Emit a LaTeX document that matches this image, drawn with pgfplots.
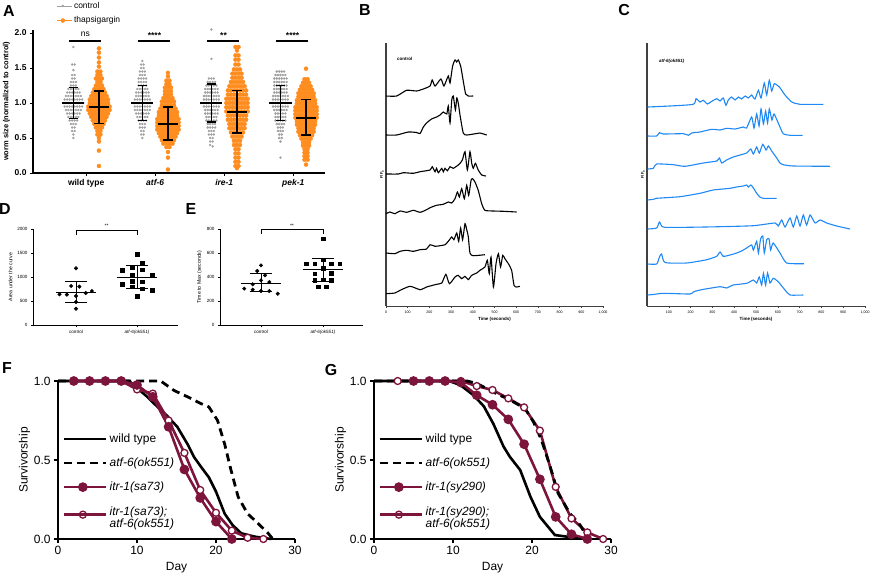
\documentclass[border=0pt]{standalone}
\usepackage{fontspec}
\setmainfont{Liberation Sans}
\usepackage{pgfplots}
\usepackage{pgfplotstable}
\pgfplotsset{compat=1.18}
\pgfplotsset{dotlegend/.style={legend image code/.code={\draw[##1] plot[only marks] coordinates {(6bp,0bp)}; \path (0bp,0bp) -- (15bp,0bp);}}}
\definecolor{ctrlgray}{RGB}{160,160,160}
\definecolor{thorange}{RGB}{255,140,30}
\definecolor{tblue}{RGB}{30,136,245}
\definecolor{maroon}{RGB}{125,20,60}
\newcommand{\msd}[9]{%
\addplot[black,line width=#9,forget plot] coordinates {(#2,#6) (#3,#6)};
\addplot[black,line width=#9,forget plot] coordinates {(#1,#7) (#1,#8)};
\addplot[black,line width=#9,forget plot] coordinates {(#4,#7) (#5,#7)};
\addplot[black,line width=#9,forget plot] coordinates {(#4,#8) (#5,#8)};}

% ---------- Panel A: control (gray) ----------
\pgfplotstableread[row sep=\\]{
g s y\\
1 0 1.80\\ 1 -1 1.55\\ 1 1 1.55\\ 1 0 1.47\\ 1 -1 1.40\\ 1 1 1.40\\ 1 -1 1.35\\ 1 1 1.35\\
1 -2 1.30\\ 1 0 1.30\\ 1 2 1.30\\ 1 -2 1.25\\ 1 0 1.25\\ 1 2 1.25\\
1 -4 1.20\\ 1 -2 1.20\\ 1 0 1.20\\ 1 2 1.20\\ 1 4 1.20\\
1 -5 1.15\\ 1 -3 1.15\\ 1 -1 1.15\\ 1 1 1.15\\ 1 3 1.15\\ 1 5 1.15\\
1 -6 1.10\\ 1 -4 1.10\\ 1 -2 1.10\\ 1 0 1.10\\ 1 2 1.10\\ 1 4 1.10\\ 1 6 1.10\\
1 -7 1.05\\ 1 -5 1.05\\ 1 -3 1.05\\ 1 -1 1.05\\ 1 1 1.05\\ 1 3 1.05\\ 1 5 1.05\\ 1 7 1.05\\
1 -8 1.00\\ 1 -6 1.00\\ 1 -4 1.00\\ 1 -2 1.00\\ 1 0 1.00\\ 1 2 1.00\\ 1 4 1.00\\ 1 6 1.00\\ 1 8 1.00\\
1 -7 0.95\\ 1 -5 0.95\\ 1 -3 0.95\\ 1 -1 0.95\\ 1 1 0.95\\ 1 3 0.95\\ 1 5 0.95\\ 1 7 0.95\\
1 -6 0.90\\ 1 -4 0.90\\ 1 -2 0.90\\ 1 0 0.90\\ 1 2 0.90\\ 1 4 0.90\\ 1 6 0.90\\
1 -5 0.85\\ 1 -3 0.85\\ 1 -1 0.85\\ 1 1 0.85\\ 1 3 0.85\\ 1 5 0.85\\
1 -4 0.80\\ 1 -2 0.80\\ 1 0 0.80\\ 1 2 0.80\\ 1 4 0.80\\
1 -3 0.75\\ 1 -1 0.75\\ 1 1 0.75\\ 1 3 0.75\\
1 -2 0.70\\ 1 0 0.70\\ 1 2 0.70\\
1 -1 0.65\\ 1 1 0.65\\ 1 -1 0.60\\ 1 1 0.60\\ 1 0 0.55\\ 1 0 0.50\\
2 0 1.60\\ 2 -1 1.55\\ 2 1 1.55\\ 2 -1 1.50\\ 2 1 1.50\\
2 -2 1.45\\ 2 0 1.45\\ 2 2 1.45\\ 2 -2 1.40\\ 2 0 1.40\\ 2 2 1.40\\
2 -3 1.35\\ 2 -1 1.35\\ 2 1 1.35\\ 2 3 1.35\\
2 -3 1.30\\ 2 -1 1.30\\ 2 1 1.30\\ 2 3 1.30\\
2 -3 1.25\\ 2 -1 1.25\\ 2 1 1.25\\ 2 3 1.25\\
2 -4 1.20\\ 2 -2 1.20\\ 2 0 1.20\\ 2 2 1.20\\ 2 4 1.20\\
2 -5 1.15\\ 2 -3 1.15\\ 2 -1 1.15\\ 2 1 1.15\\ 2 3 1.15\\ 2 5 1.15\\
2 -5 1.10\\ 2 -3 1.10\\ 2 -1 1.10\\ 2 1 1.10\\ 2 3 1.10\\ 2 5 1.10\\
2 -6 1.05\\ 2 -4 1.05\\ 2 -2 1.05\\ 2 0 1.05\\ 2 2 1.05\\ 2 4 1.05\\ 2 6 1.05\\
2 -7 1.00\\ 2 -5 1.00\\ 2 -3 1.00\\ 2 -1 1.00\\ 2 1 1.00\\ 2 3 1.00\\ 2 5 1.00\\ 2 7 1.00\\
2 -6 0.95\\ 2 -4 0.95\\ 2 -2 0.95\\ 2 0 0.95\\ 2 2 0.95\\ 2 4 0.95\\ 2 6 0.95\\
2 -6 0.90\\ 2 -4 0.90\\ 2 -2 0.90\\ 2 0 0.90\\ 2 2 0.90\\ 2 4 0.90\\ 2 6 0.90\\
2 -5 0.85\\ 2 -3 0.85\\ 2 -1 0.85\\ 2 1 0.85\\ 2 3 0.85\\ 2 5 0.85\\
2 -4 0.80\\ 2 -2 0.80\\ 2 0 0.80\\ 2 2 0.80\\ 2 4 0.80\\
2 -3 0.75\\ 2 -1 0.75\\ 2 1 0.75\\ 2 3 0.75\\
2 -2 0.70\\ 2 0 0.70\\ 2 2 0.70\\ 2 -2 0.65\\ 2 0 0.65\\ 2 2 0.65\\
2 -1 0.60\\ 2 1 0.60\\ 2 -1 0.55\\ 2 1 0.55\\ 2 0 0.50\\
3 0 2.05\\ 3 0 1.63\\
3 -2 1.35\\ 3 0 1.35\\ 3 2 1.35\\
3 -3 1.30\\ 3 -1 1.30\\ 3 1 1.30\\ 3 3 1.30\\
3 -4 1.25\\ 3 -2 1.25\\ 3 0 1.25\\ 3 2 1.25\\ 3 4 1.25\\
3 -5 1.20\\ 3 -3 1.20\\ 3 -1 1.20\\ 3 1 1.20\\ 3 3 1.20\\ 3 5 1.20\\
3 -5 1.15\\ 3 -3 1.15\\ 3 -1 1.15\\ 3 1 1.15\\ 3 3 1.15\\ 3 5 1.15\\
3 -6 1.10\\ 3 -4 1.10\\ 3 -2 1.10\\ 3 0 1.10\\ 3 2 1.10\\ 3 4 1.10\\ 3 6 1.10\\
3 -6 1.05\\ 3 -4 1.05\\ 3 -2 1.05\\ 3 0 1.05\\ 3 2 1.05\\ 3 4 1.05\\ 3 6 1.05\\
3 -6 1.00\\ 3 -4 1.00\\ 3 -2 1.00\\ 3 0 1.00\\ 3 2 1.00\\ 3 4 1.00\\ 3 6 1.00\\
3 -6 0.95\\ 3 -4 0.95\\ 3 -2 0.95\\ 3 0 0.95\\ 3 2 0.95\\ 3 4 0.95\\ 3 6 0.95\\
3 -5 0.90\\ 3 -3 0.90\\ 3 -1 0.90\\ 3 1 0.90\\ 3 3 0.90\\ 3 5 0.90\\
3 -5 0.85\\ 3 -3 0.85\\ 3 -1 0.85\\ 3 1 0.85\\ 3 3 0.85\\ 3 5 0.85\\
3 -4 0.80\\ 3 -2 0.80\\ 3 0 0.80\\ 3 2 0.80\\ 3 4 0.80\\
3 -4 0.75\\ 3 -2 0.75\\ 3 0 0.75\\ 3 2 0.75\\ 3 4 0.75\\
3 -3 0.70\\ 3 -1 0.70\\ 3 1 0.70\\ 3 3 0.70\\
3 -3 0.65\\ 3 -1 0.65\\ 3 1 0.65\\ 3 3 0.65\\
3 -2 0.60\\ 3 0 0.60\\ 3 2 0.60\\ 3 -2 0.55\\ 3 0 0.55\\ 3 2 0.55\\
3 -1 0.50\\ 3 1 0.50\\ 3 -1 0.45\\ 3 1 0.45\\ 3 -1 0.40\\ 3 1 0.38\\
4 -3 1.45\\ 4 -1 1.45\\ 4 1 1.45\\ 4 3 1.45\\
4 -4 1.40\\ 4 -2 1.40\\ 4 0 1.40\\ 4 2 1.40\\ 4 4 1.40\\
4 -5 1.35\\ 4 -3 1.35\\ 4 -1 1.35\\ 4 1 1.35\\ 4 3 1.35\\ 4 5 1.35\\
4 -5 1.30\\ 4 -3 1.30\\ 4 -1 1.30\\ 4 1 1.30\\ 4 3 1.30\\ 4 5 1.30\\
4 -5 1.25\\ 4 -3 1.25\\ 4 -1 1.25\\ 4 1 1.25\\ 4 3 1.25\\ 4 5 1.25\\
4 -5 1.20\\ 4 -3 1.20\\ 4 -1 1.20\\ 4 1 1.20\\ 4 3 1.20\\ 4 5 1.20\\
4 -5 1.15\\ 4 -3 1.15\\ 4 -1 1.15\\ 4 1 1.15\\ 4 3 1.15\\ 4 5 1.15\\
4 -6 1.10\\ 4 -4 1.10\\ 4 -2 1.10\\ 4 0 1.10\\ 4 2 1.10\\ 4 4 1.10\\ 4 6 1.10\\
4 -6 1.05\\ 4 -4 1.05\\ 4 -2 1.05\\ 4 0 1.05\\ 4 2 1.05\\ 4 4 1.05\\ 4 6 1.05\\
4 -6 1.00\\ 4 -4 1.00\\ 4 -2 1.00\\ 4 0 1.00\\ 4 2 1.00\\ 4 4 1.00\\ 4 6 1.00\\
4 -6 0.95\\ 4 -4 0.95\\ 4 -2 0.95\\ 4 0 0.95\\ 4 2 0.95\\ 4 4 0.95\\ 4 6 0.95\\
4 -5 0.90\\ 4 -3 0.90\\ 4 -1 0.90\\ 4 1 0.90\\ 4 3 0.90\\ 4 5 0.90\\
4 -4 0.85\\ 4 -2 0.85\\ 4 0 0.85\\ 4 2 0.85\\ 4 4 0.85\\
4 -4 0.80\\ 4 -2 0.80\\ 4 0 0.80\\ 4 2 0.80\\ 4 4 0.80\\
4 -4 0.75\\ 4 -2 0.75\\ 4 0 0.75\\ 4 2 0.75\\ 4 4 0.75\\
4 -3 0.70\\ 4 -1 0.70\\ 4 1 0.70\\ 4 3 0.70\\
4 -2 0.65\\ 4 0 0.65\\ 4 2 0.65\\ 4 -2 0.60\\ 4 0 0.60\\ 4 2 0.60\\
4 -1 0.55\\ 4 1 0.55\\ 4 -1 0.50\\ 4 1 0.50\\ 4 0 0.45\\ 4 0 0.22\\
}\ctrltab

% ---------- Panel A: thapsigargin (orange) ----------
\pgfplotstableread[row sep=\\]{
g s y\\
1 0 1.78\\ 1 0 1.72\\ 1 0 1.65\\ 1 0 1.58\\ 1 0 1.52\\ 1 -1 1.45\\ 1 1 1.45\\ 1 -1 1.40\\ 1 1 1.40\\
1 -2 1.35\\ 1 0 1.35\\ 1 2 1.35\\ 1 -1 1.30\\ 1 1 1.30\\ 1 -2 1.25\\ 1 0 1.25\\ 1 2 1.25\\
1 -3 1.20\\ 1 -1 1.20\\ 1 1 1.20\\ 1 3 1.20\\
1 -4 1.15\\ 1 -2 1.15\\ 1 0 1.15\\ 1 2 1.15\\ 1 4 1.15\\
1 -5 1.10\\ 1 -3 1.10\\ 1 -1 1.10\\ 1 1 1.10\\ 1 3 1.10\\ 1 5 1.10\\
1 -6 1.05\\ 1 -4 1.05\\ 1 -2 1.05\\ 1 0 1.05\\ 1 2 1.05\\ 1 4 1.05\\ 1 6 1.05\\
1 -6 1.00\\ 1 -4 1.00\\ 1 -2 1.00\\ 1 0 1.00\\ 1 2 1.00\\ 1 4 1.00\\ 1 6 1.00\\
1 -7 0.95\\ 1 -5 0.95\\ 1 -3 0.95\\ 1 -1 0.95\\ 1 1 0.95\\ 1 3 0.95\\ 1 5 0.95\\ 1 7 0.95\\
1 -7 0.90\\ 1 -5 0.90\\ 1 -3 0.90\\ 1 -1 0.90\\ 1 1 0.90\\ 1 3 0.90\\ 1 5 0.90\\ 1 7 0.90\\
1 -6 0.85\\ 1 -4 0.85\\ 1 -2 0.85\\ 1 0 0.85\\ 1 2 0.85\\ 1 4 0.85\\ 1 6 0.85\\
1 -5 0.80\\ 1 -3 0.80\\ 1 -1 0.80\\ 1 1 0.80\\ 1 3 0.80\\ 1 5 0.80\\
1 -4 0.75\\ 1 -2 0.75\\ 1 0 0.75\\ 1 2 0.75\\ 1 4 0.75\\
1 -3 0.70\\ 1 -1 0.70\\ 1 1 0.70\\ 1 3 0.70\\
1 -2 0.65\\ 1 0 0.65\\ 1 2 0.65\\ 1 -1 0.60\\ 1 1 0.60\\ 1 -1 0.55\\ 1 1 0.55\\
1 0 0.50\\ 1 0 0.45\\ 1 0 0.32\\ 1 0 0.10\\
2 0 1.43\\ 2 0 1.38\\ 2 -1 1.32\\ 2 1 1.32\\ 2 -1 1.27\\ 2 1 1.27\\
2 -2 1.22\\ 2 0 1.22\\ 2 2 1.22\\ 2 -2 1.17\\ 2 0 1.17\\ 2 2 1.17\\ 2 -2 1.12\\ 2 0 1.12\\ 2 2 1.12\\
2 -3 1.07\\ 2 -1 1.07\\ 2 1 1.07\\ 2 3 1.07\\
2 -4 1.02\\ 2 -2 1.02\\ 2 0 1.02\\ 2 2 1.02\\ 2 4 1.02\\
2 -4 0.97\\ 2 -2 0.97\\ 2 0 0.97\\ 2 2 0.97\\ 2 4 0.97\\
2 -5 0.92\\ 2 -3 0.92\\ 2 -1 0.92\\ 2 1 0.92\\ 2 3 0.92\\ 2 5 0.92\\
2 -6 0.87\\ 2 -4 0.87\\ 2 -2 0.87\\ 2 0 0.87\\ 2 2 0.87\\ 2 4 0.87\\ 2 6 0.87\\
2 -6 0.82\\ 2 -4 0.82\\ 2 -2 0.82\\ 2 0 0.82\\ 2 2 0.82\\ 2 4 0.82\\ 2 6 0.82\\
2 -7 0.77\\ 2 -5 0.77\\ 2 -3 0.77\\ 2 -1 0.77\\ 2 1 0.77\\ 2 3 0.77\\ 2 5 0.77\\ 2 7 0.77\\
2 -7 0.72\\ 2 -5 0.72\\ 2 -3 0.72\\ 2 -1 0.72\\ 2 1 0.72\\ 2 3 0.72\\ 2 5 0.72\\ 2 7 0.72\\
2 -7 0.67\\ 2 -5 0.67\\ 2 -3 0.67\\ 2 -1 0.67\\ 2 1 0.67\\ 2 3 0.67\\ 2 5 0.67\\ 2 7 0.67\\
2 -7 0.62\\ 2 -5 0.62\\ 2 -3 0.62\\ 2 -1 0.62\\ 2 1 0.62\\ 2 3 0.62\\ 2 5 0.62\\ 2 7 0.62\\
2 -6 0.57\\ 2 -4 0.57\\ 2 -2 0.57\\ 2 0 0.57\\ 2 2 0.57\\ 2 4 0.57\\ 2 6 0.57\\
2 -5 0.52\\ 2 -3 0.52\\ 2 -1 0.52\\ 2 1 0.52\\ 2 3 0.52\\ 2 5 0.52\\
2 -4 0.47\\ 2 -2 0.47\\ 2 0 0.47\\ 2 2 0.47\\ 2 4 0.47\\
2 -3 0.42\\ 2 -1 0.42\\ 2 1 0.42\\ 2 3 0.42\\
2 -1 0.37\\ 2 1 0.37\\ 2 0 0.30\\ 2 0 0.22\\ 2 0 0.05\\
3 -1 1.80\\ 3 1 1.80\\ 3 0 1.75\\ 3 -1 1.68\\ 3 1 1.68\\ 3 -1 1.62\\ 3 1 1.62\\ 3 -1 1.55\\ 3 1 1.55\\
3 -2 1.48\\ 3 0 1.48\\ 3 2 1.48\\ 3 -3 1.42\\ 3 -1 1.42\\ 3 1 1.42\\ 3 3 1.42\\
3 -3 1.36\\ 3 -1 1.36\\ 3 1 1.36\\ 3 3 1.36\\
3 -4 1.30\\ 3 -2 1.30\\ 3 0 1.30\\ 3 2 1.30\\ 3 4 1.30\\
3 -5 1.24\\ 3 -3 1.24\\ 3 -1 1.24\\ 3 1 1.24\\ 3 3 1.24\\ 3 5 1.24\\
3 -6 1.18\\ 3 -4 1.18\\ 3 -2 1.18\\ 3 0 1.18\\ 3 2 1.18\\ 3 4 1.18\\ 3 6 1.18\\
3 -6 1.12\\ 3 -4 1.12\\ 3 -2 1.12\\ 3 0 1.12\\ 3 2 1.12\\ 3 4 1.12\\ 3 6 1.12\\
3 -7 1.06\\ 3 -5 1.06\\ 3 -3 1.06\\ 3 -1 1.06\\ 3 1 1.06\\ 3 3 1.06\\ 3 5 1.06\\ 3 7 1.06\\
3 -7 1.00\\ 3 -5 1.00\\ 3 -3 1.00\\ 3 -1 1.00\\ 3 1 1.00\\ 3 3 1.00\\ 3 5 1.00\\ 3 7 1.00\\
3 -7 0.94\\ 3 -5 0.94\\ 3 -3 0.94\\ 3 -1 0.94\\ 3 1 0.94\\ 3 3 0.94\\ 3 5 0.94\\ 3 7 0.94\\
3 -7 0.88\\ 3 -5 0.88\\ 3 -3 0.88\\ 3 -1 0.88\\ 3 1 0.88\\ 3 3 0.88\\ 3 5 0.88\\ 3 7 0.88\\
3 -6 0.82\\ 3 -4 0.82\\ 3 -2 0.82\\ 3 0 0.82\\ 3 2 0.82\\ 3 4 0.82\\ 3 6 0.82\\
3 -6 0.76\\ 3 -4 0.76\\ 3 -2 0.76\\ 3 0 0.76\\ 3 2 0.76\\ 3 4 0.76\\ 3 6 0.76\\
3 -5 0.70\\ 3 -3 0.70\\ 3 -1 0.70\\ 3 1 0.70\\ 3 3 0.70\\ 3 5 0.70\\
3 -5 0.64\\ 3 -3 0.64\\ 3 -1 0.64\\ 3 1 0.64\\ 3 3 0.64\\ 3 5 0.64\\
3 -4 0.58\\ 3 -2 0.58\\ 3 0 0.58\\ 3 2 0.58\\ 3 4 0.58\\
3 -3 0.52\\ 3 -1 0.52\\ 3 1 0.52\\ 3 3 0.52\\
3 -2 0.46\\ 3 0 0.46\\ 3 2 0.46\\ 3 -2 0.40\\ 3 0 0.40\\ 3 2 0.40\\
3 -1 0.34\\ 3 1 0.34\\ 3 -1 0.28\\ 3 1 0.28\\ 3 -1 0.22\\ 3 1 0.22\\
3 -1 0.16\\ 3 1 0.16\\ 3 -1 0.10\\ 3 1 0.10\\ 3 0 0.07\\
4 0 1.49\\ 4 -1 1.34\\ 4 1 1.34\\ 4 -2 1.29\\ 4 0 1.29\\ 4 2 1.29\\
4 -3 1.24\\ 4 -1 1.24\\ 4 1 1.24\\ 4 3 1.24\\
4 -4 1.19\\ 4 -2 1.19\\ 4 0 1.19\\ 4 2 1.19\\ 4 4 1.19\\
4 -5 1.14\\ 4 -3 1.14\\ 4 -1 1.14\\ 4 1 1.14\\ 4 3 1.14\\ 4 5 1.14\\
4 -5 1.09\\ 4 -3 1.09\\ 4 -1 1.09\\ 4 1 1.09\\ 4 3 1.09\\ 4 5 1.09\\
4 -6 1.04\\ 4 -4 1.04\\ 4 -2 1.04\\ 4 0 1.04\\ 4 2 1.04\\ 4 4 1.04\\ 4 6 1.04\\
4 -6 0.99\\ 4 -4 0.99\\ 4 -2 0.99\\ 4 0 0.99\\ 4 2 0.99\\ 4 4 0.99\\ 4 6 0.99\\
4 -7 0.94\\ 4 -5 0.94\\ 4 -3 0.94\\ 4 -1 0.94\\ 4 1 0.94\\ 4 3 0.94\\ 4 5 0.94\\ 4 7 0.94\\
4 -7 0.89\\ 4 -5 0.89\\ 4 -3 0.89\\ 4 -1 0.89\\ 4 1 0.89\\ 4 3 0.89\\ 4 5 0.89\\ 4 7 0.89\\
4 -7 0.84\\ 4 -5 0.84\\ 4 -3 0.84\\ 4 -1 0.84\\ 4 1 0.84\\ 4 3 0.84\\ 4 5 0.84\\ 4 7 0.84\\
4 -7 0.79\\ 4 -5 0.79\\ 4 -3 0.79\\ 4 -1 0.79\\ 4 1 0.79\\ 4 3 0.79\\ 4 5 0.79\\ 4 7 0.79\\
4 -6 0.74\\ 4 -4 0.74\\ 4 -2 0.74\\ 4 0 0.74\\ 4 2 0.74\\ 4 4 0.74\\ 4 6 0.74\\
4 -6 0.69\\ 4 -4 0.69\\ 4 -2 0.69\\ 4 0 0.69\\ 4 2 0.69\\ 4 4 0.69\\ 4 6 0.69\\
4 -5 0.64\\ 4 -3 0.64\\ 4 -1 0.64\\ 4 1 0.64\\ 4 3 0.64\\ 4 5 0.64\\
4 -5 0.59\\ 4 -3 0.59\\ 4 -1 0.59\\ 4 1 0.59\\ 4 3 0.59\\ 4 5 0.59\\
4 -4 0.54\\ 4 -2 0.54\\ 4 0 0.54\\ 4 2 0.54\\ 4 4 0.54\\
4 -3 0.49\\ 4 -1 0.49\\ 4 1 0.49\\ 4 3 0.49\\
4 -2 0.44\\ 4 0 0.44\\ 4 2 0.44\\ 4 -2 0.39\\ 4 0 0.39\\ 4 2 0.39\\
4 -1 0.34\\ 4 1 0.34\\ 4 -1 0.29\\ 4 1 0.29\\ 4 -1 0.24\\ 4 1 0.24\\ 4 -1 0.19\\ 4 1 0.19\\ 4 0 0.12\\
}\thaptab

\begin{document}
\begin{tikzpicture}
\path[use as bounding box] (0,0) rectangle (872bp,-580bp);

% panel letters
\node[font=\bfseries\fontsize{16}{16}\selectfont] at (9bp,-11bp) {A};
\node[font=\bfseries\fontsize{16}{16}\selectfont] at (365bp,-10bp) {B};
\node[font=\bfseries\fontsize{16}{16}\selectfont] at (624bp,-10bp) {C};
\node[font=\bfseries\fontsize{16}{16}\selectfont] at (5bp,-209bp) {D};
\node[font=\bfseries\fontsize{16}{16}\selectfont] at (191bp,-209bp) {E};
\node[font=\bfseries\fontsize{16}{16}\selectfont] at (7bp,-368bp) {F};
\node[font=\bfseries\fontsize{16}{16}\selectfont] at (331bp,-370bp) {G};

% ================= A =================
\begin{axis}[at={(33bp,-29.5bp)}, anchor=north west, scale only axis,
  width=292bp, height=143.5bp, xmin=0.23, xmax=4.46, ymin=0, ymax=2.05,
  axis lines=left, axis line style={-, line width=1.2bp},
  tick align=outside, major tick length=3bp, tick style={black, line width=1bp},
  xtick={1,2,3,4}, xticklabels={wild type, \textit{atf-6}, \textit{ire-1}, \textit{pek-1}},
  ytick={0,0.5,1,1.5,2},
  yticklabel style={/pgf/number format/.cd, fixed, fixed zerofill, precision=1},
  /pgf/number format/assume math mode=true,
  ticklabel style={font=\bfseries\fontsize{8.5}{9}\selectfont},
  ylabel={worm size (normalized to control)},
  ylabel style={font=\bfseries\fontsize{7.5}{8}\selectfont, yshift=-2bp},
  legend style={at={(0.07,1.22)}, anchor=north west, draw=none, fill=none,
    font=\fontsize{8.5}{9}\selectfont, row sep=3bp},
  legend cell align=left, clip=false, clip marker paths=true]
\addplot[only marks, mark=*, mark size=1bp, color=ctrlgray, dotlegend]
  table[x expr=\thisrow{g}-0.185+\thisrow{s}*0.018, y=y] {\ctrltab};
\addlegendentry{control}
\addplot[only marks, mark=*, mark size=2bp, color=thorange, dotlegend]
  table[x expr=\thisrow{g}+0.185+\thisrow{s}*0.022, y=y] {\thaptab};
\addlegendentry{thapsigargin}
\msd{0.815}{0.655}{0.975}{0.745}{0.885}{1.00}{0.78}{1.22}{1.6bp}
\msd{1.185}{1.035}{1.335}{1.115}{1.255}{0.94}{0.71}{1.17}{1.6bp}
\msd{1.815}{1.655}{1.975}{1.745}{1.885}{1.00}{0.75}{1.25}{1.6bp}
\msd{2.185}{2.035}{2.335}{2.115}{2.255}{0.70}{0.47}{0.94}{1.6bp}
\msd{2.815}{2.655}{2.975}{2.745}{2.885}{1.00}{0.73}{1.27}{1.6bp}
\msd{3.185}{3.035}{3.335}{3.115}{3.255}{0.87}{0.57}{1.18}{1.6bp}
\msd{3.815}{3.655}{3.975}{3.745}{3.885}{1.00}{0.75}{1.25}{1.6bp}
\msd{4.185}{4.035}{4.335}{4.115}{4.255}{0.79}{0.54}{1.05}{1.6bp}
\addplot[black, line width=1.4bp, forget plot] coordinates {(0.755,1.885) (1.21,1.885)};
\addplot[black, line width=1.4bp, forget plot] coordinates {(1.755,1.885) (2.21,1.885)};
\addplot[black, line width=1.4bp, forget plot] coordinates {(2.755,1.885) (3.21,1.885)};
\addplot[black, line width=1.4bp, forget plot] coordinates {(3.755,1.885) (4.21,1.885)};
\node[font=\fontsize{8.5}{9}\selectfont] at (axis cs:0.99,1.98) {ns};
\node[font=\bfseries\fontsize{8.5}{9}\selectfont] at (axis cs:1.99,1.96) {****};
\node[font=\bfseries\fontsize{8.5}{9}\selectfont] at (axis cs:2.99,1.96) {**};
\node[font=\bfseries\fontsize{8.5}{9}\selectfont] at (axis cs:3.99,1.96) {****};
\end{axis}

% ================= B =================
\begin{axis}[at={(386bp,-43bp)}, anchor=north west, scale only axis,
  width=217bp, height=263bp, xmin=0, xmax=1000, ymin=0, ymax=263,
  axis x line=bottom, axis y line=left, axis line style={-, black!75, line width=0.7bp},
  y axis line style={line width=1.5bp},
  ytick=\empty, xtick={0,100,...,1000}, tick align=outside, major tick length=1.5bp,
  tick style={black!75, line width=0.5bp},
  /pgf/number format/assume math mode=true,
  xticklabel style={font=\fontsize{3.6}{4}\selectfont},
  xlabel={Time (seconds)}, xlabel style={font=\bfseries\fontsize{4.5}{5}\selectfont, yshift=4bp},
  ylabel={F/F\textsubscript{0}}, ylabel style={font=\bfseries\fontsize{4}{4}\selectfont, yshift=-3bp},
  clip=false]
\addplot[black, line width=1.1bp, smooth, tension=0.35] table[row sep=\\, y expr=\thisrow{h}+210] {
t h\\ 0 0\\ 49 0\\ 95 5.7\\ 141 5\\ 172 7\\ 203 10\\ 213 16\\ 226 10\\ 253 17\\ 267 10\\ 287 20\\ 295 13\\ 307 30\\ 318 36\\ 326 34\\ 333 36\\ 344 30\\ 356 15\\ 367 2\\ 379 0\\ 402 0\\};
\addplot[black, line width=1.1bp, smooth, tension=0.35] table[row sep=\\, y expr=\thisrow{h}+171] {
t h\\ 0 0\\ 49 0\\ 103 3\\ 141 2.5\\ 157 1.5\\ 172 8\\ 187 12\\ 210 16\\ 233 18\\ 249 20\\ 264 23\\ 280 21\\ 287 29\\ 295 12\\ 303 35\\ 310 39\\ 320 25\\ 326 37\\ 333 32\\ 341 20\\ 356 2\\ 372 0\\ 418 1.5\\ 433 2\\ 464 0\\};
\addplot[black, line width=1.1bp, smooth, tension=0.35] table[row sep=\\, y expr=\thisrow{h}+132] {
t h\\ 0 0\\ 57 0\\ 80 1.3\\ 126 0.7\\ 157 2.3\\ 203 4\\ 213 7.3\\ 226 2.3\\ 233 5.7\\ 241 1.3\\ 257 5.7\\ 264 2.3\\ 272 5.7\\ 283 3.3\\ 295 7.3\\ 310 5.7\\ 333 9\\ 341 10.7\\ 352 14\\ 364 22.3\\ 375 4\\ 387 22.3\\ 395 10.7\\ 402 5.7\\ 412 10.7\\ 425 4\\ 441 -1\\ 461 -2\\};
\addplot[black, line width=1.1bp, smooth, tension=0.35] table[row sep=\\, y expr=\thisrow{h}+94] {
t h\\ 0 -1.7\\ 18 0\\ 41 -1.7\\ 65 1\\ 95 -0.3\\ 126 1.7\\ 157 -0.3\\ 187 2.3\\ 203 4.3\\ 233 6.7\\ 264 7.7\\ 287 10\\ 303 9\\ 318 13.3\\ 329 20\\ 338 15\\ 349 23.3\\ 361 13.3\\ 372 26.7\\ 381 16.7\\ 392 31.7\\ 399 33.3\\ 410 30\\ 425 21.7\\ 441 8.3\\ 456 1.7\\ 495 1\\ 541 0.7\\ 602 0\\};
\addplot[black, line width=1.1bp, smooth, tension=0.35] table[row sep=\\, y expr=\thisrow{h}+53] {
t h\\ 0 0\\ 41 -0.7\\ 65 1.7\\ 95 2.7\\ 126 1.7\\ 157 3.3\\ 187 4\\ 203 8.3\\ 226 6.7\\ 249 7.3\\ 272 8.3\\ 287 11.7\\ 303 16\\ 313 13.3\\ 326 20\\ 335 11.7\\ 344 25\\ 353 13.3\\ 364 29.3\\ 372 23.3\\ 379 16.7\\ 387 0\\ 402 -2.7\\ 456 -1.7\\};
\addplot[black, line width=1.1bp, smooth, tension=0.35] table[row sep=\\, y expr=\thisrow{h}+13] {
t h\\ 0 -0.7\\ 41 0\\ 65 2.7\\ 111 6.7\\ 157 3.3\\ 187 6\\ 233 8.7\\ 257 10\\ 276 18.7\\ 292 9.3\\ 318 16\\ 333 17.7\\ 349 14.3\\ 364 16.7\\ 379 13.3\\ 395 17.7\\ 418 20\\ 433 22.7\\ 456 26\\ 467 32.7\\ 476 19.3\\ 484 36\\ 495 6\\ 507 29.3\\ 518 39.3\\ 528 26\\ 538 37.7\\ 548 34.3\\ 564 29.3\\ 579 22.7\\ 590 7.7\\ 602 6\\ 617 6.7\\};
\node[font=\bfseries\fontsize{4.5}{5}\selectfont, anchor=west] at (axis cs:35,247) {control};
\end{axis}

% ================= C =================
\begin{axis}[at={(647bp,-43bp)}, anchor=north west, scale only axis,
  width=218bp, height=263bp, xmin=0, xmax=1000, ymin=0, ymax=263,
  axis x line=bottom, axis y line=left, axis line style={-, black!75, line width=0.7bp},
  y axis line style={line width=1.5bp},
  ytick=\empty, xtick={100,200,...,1000}, tick align=outside, major tick length=1.5bp,
  tick style={black!75, line width=0.5bp},
  /pgf/number format/assume math mode=true,
  xticklabel style={font=\fontsize{3.6}{4}\selectfont},
  xlabel={Time (seconds)}, xlabel style={font=\bfseries\fontsize{4.5}{5}\selectfont, yshift=4bp},
  ylabel={F/F\textsubscript{0}}, ylabel style={font=\bfseries\fontsize{4}{4}\selectfont, yshift=-3bp},
  clip=false]
\addplot[tblue, line width=1.1bp, smooth, tension=0.35] table[row sep=\\, y expr=\thisrow{h}+199] {
t h\\ 3 0\\ 105 1\\ 212 2.7\\ 225 8.3\\ 243 5\\ 258 6.7\\ 277 3\\ 297 5.7\\ 320 8.3\\ 335 6\\ 350 9\\ 362 1.7\\ 373 7\\ 388 10\\ 404 7\\ 419 10\\ 434 8\\ 450 11\\ 465 9\\ 480 12\\ 495 8\\ 511 16.7\\ 523 9\\ 538 24\\ 549 12\\ 561 26.7\\ 572 16\\ 584 23.3\\ 607 20\\ 633 12\\ 664 5\\ 702 2.7\\ 809 2.7\\};
\addplot[tblue, line width=1.1bp, smooth, tension=0.35] table[row sep=\\, y expr=\thisrow{h}+170] {
t h\\ 3 0\\ 44 0\\ 57 3.3\\ 75 2\\ 167 2.3\\ 190 0.7\\ 205 3\\ 243 4\\ 297 6.7\\ 335 6\\ 365 7.7\\ 404 7\\ 442 9\\ 457 8\\ 480 19\\ 491 8\\ 503 22\\ 514 10\\ 523 27\\ 534 12\\ 544 25\\ 553 13\\ 561 27\\ 573 16\\ 583 22\\ 610 9\\ 625 2.3\\ 656 0.7\\ 714 0.7\\};
\addplot[tblue, line width=1.1bp, smooth, tension=0.35] table[row sep=\\, y expr=\thisrow{h}+137] {
t h\\ 3 0\\ 29 0.7\\ 44 5\\ 121 4.3\\ 174 2.7\\ 258 6\\ 320 8\\ 332 11\\ 343 6\\ 365 9\\ 396 12\\ 427 14\\ 457 16\\ 476 20\\ 488 15\\ 503 22\\ 515 16\\ 531 24.7\\ 546 19\\ 557 23\\ 572 18\\ 595 11\\ 610 6\\ 625 4.3\\ 671 3\\ 839 2.7\\};
\addplot[tblue, line width=1.1bp, smooth, tension=0.35] table[row sep=\\, y expr=\thisrow{h}+106] {
t h\\ 3 0\\ 29 0.7\\ 44 1.7\\ 151 3.3\\ 243 6.7\\ 304 10\\ 381 11.7\\ 411 13\\ 442 14\\ 457 15\\ 465 13\\ 476 15\\ 488 12\\ 503 6.7\\ 518 3\\ 534 1.7\\ 595 1.7\\};
\addplot[tblue, line width=1.1bp, smooth, tension=0.35] table[row sep=\\, y expr=\thisrow{h}+77] {
t h\\ 3 0\\ 44 1\\ 57 7\\ 67 3\\ 83 1.7\\ 182 1.7\\ 335 2.3\\ 488 3.3\\ 587 6\\ 602 3\\ 618 9\\ 633 2\\ 656 11\\ 671 2\\ 687 13\\ 702 3\\ 717 14\\ 732 4\\ 748 14\\ 771 6\\ 794 9\\ 824 6\\ 870 3\\ 931 0\\};
\addplot[tblue, line width=1.1bp, smooth, tension=0.35] table[row sep=\\, y expr=\thisrow{h}+42] {
t h\\ 3 0\\ 44 0\\ 57 7\\ 67 10\\ 83 1.5\\ 182 1\\ 274 4.3\\ 320 7.7\\ 335 12\\ 350 7.7\\ 381 9\\ 411 11\\ 434 13\\ 457 16\\ 480 19\\ 488 14\\ 503 22.7\\ 511 11\\ 521 25\\ 531 28\\ 538 11\\ 549 24.3\\ 560 25\\ 567 14\\ 579 21\\ 610 11\\ 641 1\\ 720 0.3\\};
\addplot[tblue, line width=1.1bp, smooth, tension=0.35] table[row sep=\\, y expr=\thisrow{h}+11] {
t h\\ 3 0\\ 29 0.5\\ 75 1.7\\ 197 1\\ 212 3\\ 243 5\\ 335 8.3\\ 365 7\\ 396 10\\ 457 11.7\\ 488 15\\ 503 12\\ 515 18\\ 526 10\\ 534 21.7\\ 544 10\\ 553 22\\ 564 12\\ 579 16.7\\ 602 13.3\\ 633 5\\ 656 0\\ 717 0\\};
\node[font=\bfseries\itshape\fontsize{4.5}{5}\selectfont, anchor=west] at (axis cs:40,245) {atf-6(ok551)};
\end{axis}

% ================= D =================
\begin{axis}[at={(33bp,-229bp)}, anchor=north west, scale only axis,
  width=145bp, height=96bp, xmin=0.295, xmax=2.672, ymin=0, ymax=2000,
  axis lines=left, axis line style={-, line width=0.8bp},
  tick align=outside, major tick length=2bp, tick style={black, line width=0.6bp},
  ytick={0,500,1000,1500,2000}, xtick={1,2}, xticklabels={control, \textit{atf-6(ok551)}},
  scaled ticks=false, /pgf/number format/assume math mode=true,
  yticklabel style={/pgf/number format/1000 sep={}},
  ticklabel style={font=\fontsize{4.6}{5}\selectfont},
  ylabel={Area under the curve}, ylabel style={font=\fontsize{5.2}{6}\selectfont, yshift=-2bp},
  clip=false, clip marker paths=true]
\addplot[only marks, mark=*, mark size=1.8bp, black] table[row sep=\\] {
x y\\ 1 1181\\ 0.92 812\\ 1.055 799\\ 0.73 639\\ 0.85 632\\ 1.26 708\\ 1.16 667\\ 1 604\\ 1 479\\ 1 340\\};
\addplot[only marks, mark=square*, mark size=1.7bp, black] table[row sep=\\] {
x y\\ 2 1472\\ 2.087 1292\\ 1.923 1208\\ 2.087 1153\\ 1.754 1139\\ 1.923 1049\\ 2.25 1049\\ 1.923 910\\ 2.087 896\\ 1.754 847\\ 1.923 792\\ 2.087 757\\ 2.25 722\\ 2 597\\};
\msd{1}{0.67}{1.33}{0.82}{1.18}{688}{460}{910}{0.9bp}
\msd{2}{1.67}{2.33}{1.82}{2.18}{1000}{760}{1250}{0.9bp}
\draw[line width=0.6bp] (axis cs:1,1875) -- (axis cs:1,1979) -- (axis cs:2,1979) -- (axis cs:2,1875);
\node[font=\fontsize{5}{5}\selectfont] at (axis cs:1.5,2060) {**};
\end{axis}

% ================= E =================
\begin{axis}[at={(220bp,-229bp)}, anchor=north west, scale only axis,
  width=143bp, height=96bp, xmin=0.339, xmax=2.645, ymin=0, ymax=800,
  axis lines=left, axis line style={-, line width=0.8bp},
  tick align=outside, major tick length=2bp, tick style={black, line width=0.6bp},
  ytick={0,200,400,600,800}, xtick={1,2}, xticklabels={control, \textit{atf-6(ok551)}},
  scaled ticks=false, /pgf/number format/assume math mode=true,
  ticklabel style={font=\fontsize{4.6}{5}\selectfont},
  ylabel={Time to Max (seconds)}, ylabel style={font=\fontsize{5.2}{6}\selectfont, yshift=-2bp},
  clip=false, clip marker paths=true]
\addplot[only marks, mark=*, mark size=1.8bp, black] table[row sep=\\] {
x y\\ 1 497\\ 0.94 450\\ 1.065 414\\ 1 372\\ 1.134 358\\ 0.866 339\\ 0.73 303\\ 0.866 294\\ 1 283\\ 1.134 283\\ 1.27 261\\};
\addplot[only marks, mark=square*, mark size=1.7bp, black] table[row sep=\\] {
x y\\ 2 719\\ 1.73 511\\ 1.866 511\\ 2.134 511\\ 2.27 511\\ 2 544\\ 2 475\\ 1.866 428\\ 2.134 433\\ 2 378\\ 1.866 372\\ 2.134 372\\ 1.92 317\\ 2.054 317\\};
\msd{1}{0.67}{1.33}{0.82}{1.18}{350}{280}{428}{0.9bp}
\msd{2}{1.67}{2.33}{1.82}{2.18}{461}{367}{558}{0.9bp}
\draw[line width=0.6bp] (axis cs:1,758) -- (axis cs:1,797) -- (axis cs:2,797) -- (axis cs:2,758);
\node[font=\fontsize{5}{5}\selectfont] at (axis cs:1.5,830) {**};
\end{axis}

% ================= F =================
\begin{axis}[at={(58bp,-381bp)}, anchor=north west, scale only axis,
  width=237bp, height=158bp, xmin=0, xmax=30, ymin=0, ymax=1,
  axis lines=left, axis line style={-, line width=2bp},
  tick align=outside, major tick length=4bp, tick style={black, line width=2bp},
  xtick={0,10,20,30}, ytick={0,0.5,1},
  yticklabel style={/pgf/number format/.cd, fixed, fixed zerofill, precision=1},
  /pgf/number format/assume math mode=true,
  ticklabel style={font=\fontsize{12}{13}\selectfont},
  xlabel={Day}, ylabel={Survivorship},
  label style={font=\fontsize{12}{13}\selectfont},
  ylabel style={yshift=-3bp},
  legend style={at={(0.02,0.68)}, anchor=north west, draw=none, fill=none,
    font=\fontsize{12}{13}\selectfont, row sep=10bp, inner sep=0pt},
  legend cell align=left,
  legend image code/.code={\draw[#1, mark repeat=2, mark phase=2] plot coordinates {(0bp,0bp) (18.5bp,0bp) (37bp,0bp)}; \path (0bp,0bp) -- (42bp,0bp);},
  clip=false]
\addlegendimage{black, line width=2.6bp}
\addlegendentry{wild type}
\addlegendimage{black, line width=2.8bp, dash pattern=on 8bp off 5bp}
\addlegendentry{\textit{atf-6(ok551)}}
\addlegendimage{maroon, line width=2.6bp, mark=*, mark size=3.5bp, mark options={solid, fill=maroon}}
\addlegendentry{\textit{itr-1(sa73)}}
\addlegendimage{maroon, line width=2.6bp, mark=*, mark size=3.5bp, mark options={solid, fill=white, line width=1.3bp}}
\addlegendentry{\begin{tabular}{@{}l@{}}\textit{itr-1(sa73);}\\[-1bp]\textit{atf-6(ok551)}\end{tabular}}
\addplot[black, line width=2.6bp, forget plot] coordinates {
(0,1) (9,1) (10,0.956) (11.3,0.90) (12.6,0.836) (13.8,0.78) (15.1,0.71) (16.4,0.60) (17.2,0.52) (18.1,0.457) (19.1,0.39) (20,0.30) (21.1,0.16) (22.1,0.088) (23.2,0.036) (24.9,0.015) (27,0)};
\addplot[black, line width=2.8bp, dash pattern=on 8bp off 5bp, forget plot] coordinates {
(0,1) (13,1) (14.7,0.94) (16.4,0.90) (18.1,0.857) (19.1,0.836) (20.2,0.75) (21.1,0.60) (21.9,0.436) (22.8,0.267) (24,0.16) (25.3,0.10) (26.6,0.036) (27.2,0)};
\addplot[maroon, line width=2.6bp, mark=*, mark size=3.5bp, mark options={solid, fill=white, line width=1.3bp}, forget plot] coordinates {
(2,1) (4,1) (6,1) (8,1) (10,0.947) (12,0.92) (14,0.75) (16,0.545) (18,0.31) (20,0.166) (22,0.053) (24,0.008) (26,0)};
\addplot[maroon, line width=2.6bp, mark=*, mark size=3.5bp, mark options={solid, fill=maroon}, forget plot] coordinates {
(2,1) (4,1) (6,1) (8,1) (10,0.975) (12,0.90) (14,0.71) (16,0.44) (18,0.26) (20,0.11) (22,0)};
\end{axis}

% ================= G =================
\begin{axis}[at={(374bp,-381bp)}, anchor=north west, scale only axis,
  width=237bp, height=158bp, xmin=0, xmax=30, ymin=0, ymax=1,
  axis lines=left, axis line style={-, line width=2bp},
  tick align=outside, major tick length=4bp, tick style={black, line width=2bp},
  xtick={0,10,20,30}, ytick={0,0.5,1},
  yticklabel style={/pgf/number format/.cd, fixed, fixed zerofill, precision=1},
  /pgf/number format/assume math mode=true,
  ticklabel style={font=\fontsize{12}{13}\selectfont},
  xlabel={Day}, ylabel={Survivorship},
  label style={font=\fontsize{12}{13}\selectfont},
  ylabel style={yshift=-3bp},
  legend style={at={(0.02,0.68)}, anchor=north west, draw=none, fill=none,
    font=\fontsize{12}{13}\selectfont, row sep=10bp, inner sep=0pt},
  legend cell align=left,
  legend image code/.code={\draw[#1, mark repeat=2, mark phase=2] plot coordinates {(0bp,0bp) (18.5bp,0bp) (37bp,0bp)}; \path (0bp,0bp) -- (42bp,0bp);},
  clip=false]
\addlegendimage{black, line width=2.6bp}
\addlegendentry{wild type}
\addlegendimage{black, line width=2.8bp, dash pattern=on 8bp off 5bp}
\addlegendentry{\textit{atf-6(ok551)}}
\addlegendimage{maroon, line width=2.6bp, mark=*, mark size=3.5bp, mark options={solid, fill=maroon}}
\addlegendentry{\textit{itr-1(sy290)}}
\addlegendimage{maroon, line width=2.6bp, mark=*, mark size=3.5bp, mark options={solid, fill=white, line width=1.3bp}}
\addlegendentry{\begin{tabular}{@{}l@{}}\textit{itr-1(sy290);}\\[-1bp]\textit{atf-6(ok551)}\end{tabular}}
\addplot[maroon, line width=2.6bp, mark=*, mark size=3.5bp, mark options={solid, fill=white, line width=1.3bp}, forget plot] coordinates {
(3,1) (5,1) (7,1) (9,1) (11,1) (13,0.968) (15,0.943) (17,0.89) (19,0.833) (21,0.686) (23,0.33) (25,0.13) (27,0.042) (29,0)};
\addplot[black, line width=2.6bp, forget plot] coordinates {
(0,1) (9.5,1) (10.9,0.975) (12.6,0.91) (13.9,0.84) (15.1,0.73) (16.4,0.585) (17.2,0.52) (18.5,0.437) (19.8,0.268) (21,0.14) (22.9,0.025) (24.4,0.015) (27,0)};
\addplot[black, line width=2.8bp, dash pattern=on 8bp off 5bp, forget plot] coordinates {
(0,1) (11.8,1) (13,0.985) (15.1,0.93) (17.2,0.88) (19.1,0.827) (20.2,0.74) (21.2,0.626) (22.3,0.458) (23.3,0.29) (24.8,0.162) (26.1,0.088) (27.1,0)};
\addplot[maroon, line width=2.6bp, mark=*, mark size=3.5bp, mark options={solid, fill=maroon}, forget plot] coordinates {
(5,1) (7,1) (9,1) (11,0.99) (13,0.91) (15,0.85) (17,0.757) (19,0.60) (21,0.378) (23,0.14) (25,0.03) (27,0)};
\end{axis}
\end{tikzpicture}
\end{document}
